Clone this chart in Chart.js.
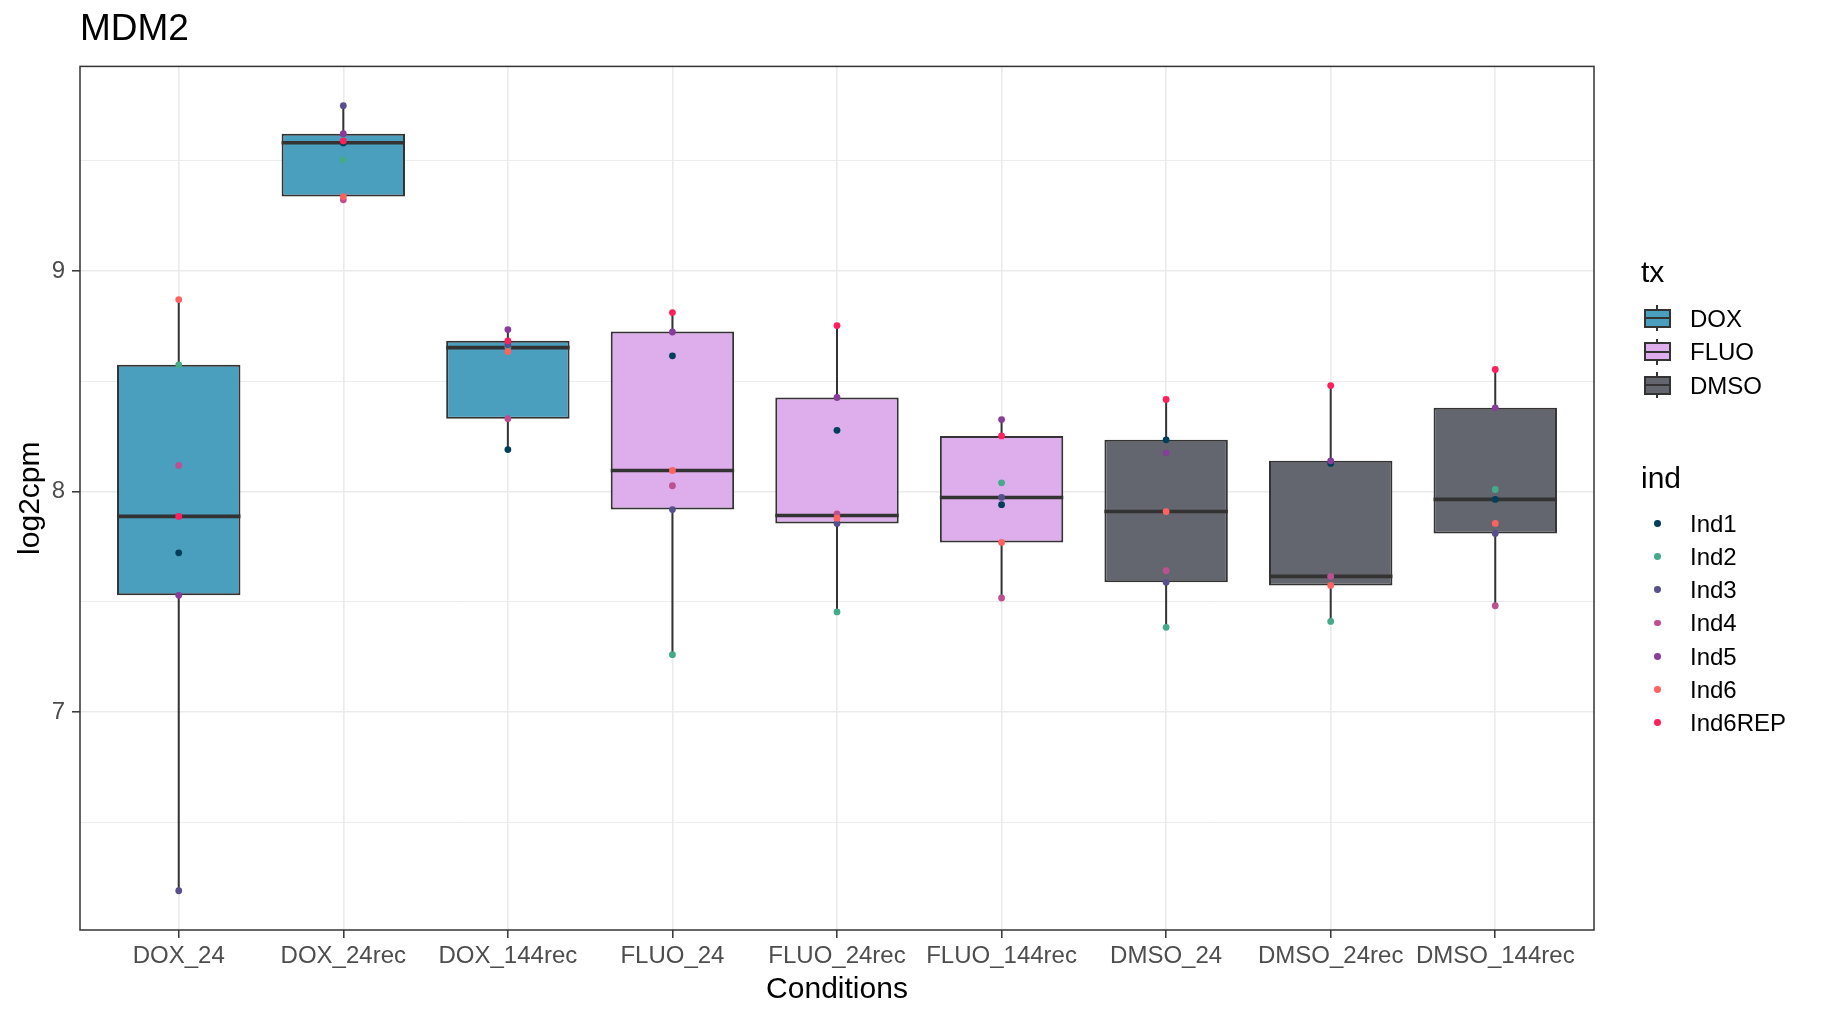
<!DOCTYPE html>
<html>
<head>
<meta charset="utf-8">
<title>MDM2</title>
<script src="https://cdn.jsdelivr.net/npm/chart.js@4.4.1/dist/chart.umd.min.js"></script>
<style>
  html, body { margin: 0; padding: 0; background: #ffffff; }
  #wrap {
    position: relative;
    width: 1821px;
    height: 1020px;
    font-family: "Liberation Sans", Arial, sans-serif;
  }
  #chart { position: absolute; left: 0; top: 0; }
  .lg-title { position: absolute; font-size: 30px; line-height: 36px; color: #000; white-space: nowrap; }
  .lg-text { position: absolute; font-size: 24px; line-height: 28px; color: #000; white-space: nowrap; }
  .lg-abs { position: absolute; box-sizing: border-box; }
</style>
</head>
<body>
<div id="wrap">
  <canvas id="chart" width="1821" height="1020"></canvas>
  <div id="legend"></div>
</div>
<script>
// Conditions on the x axis and the treatment group each one belongs to
const conditions = ["DOX_24", "DOX_24rec", "DOX_144rec", "FLUO_24", "FLUO_24rec",
  "FLUO_144rec", "DMSO_24", "DMSO_24rec", "DMSO_144rec"];
const conditionTx = ["DOX", "DOX", "DOX", "FLUO", "FLUO", "FLUO", "DMSO", "DMSO", "DMSO"];

// Treatment groups (box fill)
const txGroups = ["DOX", "FLUO", "DMSO"];
const txColors = ["#4A9EBE", "#DEADEB", "#63666E"];

// Box statistics (log2cpm)
const whiskerLow  = [6.19, 9.322, 8.19, 7.26, 7.454, 7.517, 7.384, 7.411, 7.482];
const boxQ1       = [7.529, 9.337, 8.33, 7.918, 7.855, 7.769, 7.588, 7.574, 7.81];
const boxMedian   = [7.887, 9.581, 8.652, 8.095, 7.891, 7.973, 7.909, 7.615, 7.964];
const boxQ3       = [8.574, 9.622, 8.683, 8.725, 8.426, 8.252, 8.234, 8.139, 8.379];
const whiskerHigh = [8.87, 9.749, 8.734, 8.811, 8.752, 8.326, 8.417, 8.48, 8.553];

// Individual points per condition
const individuals = ["Ind1", "Ind2", "Ind3", "Ind4", "Ind5", "Ind6", "Ind6REP"];
const indColors = ["#003F5C", "#45A98A", "#58508D", "#BC5090", "#883D9A", "#FF6361", "#FF1F5B"];
const ind1    = [7.722, 9.58, 8.19, 8.615, 8.277, 7.94, 8.234, 8.127, 7.964];
const ind2    = [8.574, 9.503, 8.655, 7.26, 7.454, 8.039, 7.384, 7.411, 8.009];
const ind3    = [6.19, 9.749, 8.665, 7.918, 7.855, 7.973, 7.588, 7.615, 7.81];
const ind4    = [8.118, 9.322, 8.33, 8.026, 7.898, 7.517, 7.641, 7.615, 7.482];
const ind5    = [7.529, 9.622, 8.734, 8.723, 8.426, 8.326, 8.175, 8.139, 8.379];
const ind6    = [8.87, 9.337, 8.634, 8.095, 7.879, 7.769, 7.909, 7.574, 7.855];
const ind6rep = [7.887, 9.589, 8.683, 8.811, 8.752, 8.252, 8.417, 8.48, 8.553];
const indValues = [ind1, ind2, ind3, ind4, ind5, ind6, ind6rep];

// Axis ticks
const yTickValues = [6.5, 7, 7.5, 8, 8.5, 9, 9.5];

// ggplot style 5% expansion of the data range on y, 0.6 units on x
const dataMin = Math.min(...whiskerLow);
const dataMax = Math.max(...whiskerHigh);
const yPad = (dataMax - dataMin) * 0.05;

const FONT = '"Liberation Sans", Arial, sans-serif';
Chart.defaults.font.family = FONT;

const boxColors = conditionTx.map((t) => txColors[txGroups.indexOf(t)]);

const datasets = [
  {
    type: "bar",
    label: "box",
    data: conditions.map((c, i) => ({ x: i, y: [boxQ1[i], boxQ3[i]] })),
    backgroundColor: boxColors,
    borderColor: "#333333",
    borderWidth: 2,
    borderSkipped: false,
    categoryPercentage: 1.0,
    barPercentage: 0.75,
    order: 10,
  },
];
individuals.forEach((name, k) => {
  datasets.push({
    type: "scatter",
    label: name,
    data: conditions.map((c, i) => ({ x: i, y: indValues[k][i] })),
    backgroundColor: indColors[k],
    borderWidth: 0,
    pointRadius: 3.4,
    pointHoverRadius: 3.4,
    order: individuals.length - k,
  });
});

// Whiskers, medians and the panel border
const boxLines = {
  id: "boxLines",
  beforeDatasetsDraw(chart) {
    const { ctx, scales } = chart;
    ctx.save();
    ctx.strokeStyle = "#333333";
    ctx.lineWidth = 2;
    conditions.forEach((c, i) => {
      const px = scales.x.getPixelForValue(i);
      ctx.beginPath();
      ctx.moveTo(px, scales.y.getPixelForValue(whiskerLow[i]));
      ctx.lineTo(px, scales.y.getPixelForValue(whiskerHigh[i]));
      ctx.stroke();
    });
    ctx.restore();
  },
  afterDatasetDraw(chart, args) {
    if (args.index !== 0) return;
    const { ctx, scales } = chart;
    ctx.save();
    ctx.strokeStyle = "#333333";
    ctx.lineWidth = 3.6;
    args.meta.data.forEach((bar, i) => {
      const half = bar.width / 2;
      const py = scales.y.getPixelForValue(boxMedian[i]);
      ctx.beginPath();
      ctx.moveTo(bar.x - half, py);
      ctx.lineTo(bar.x + half, py);
      ctx.stroke();
    });
    ctx.restore();
  },
  afterDraw(chart) {
    const { ctx, chartArea } = chart;
    ctx.save();
    ctx.strokeStyle = "#333333";
    ctx.lineWidth = 1.5;
    ctx.strokeRect(chartArea.left, chartArea.top,
      chartArea.right - chartArea.left, chartArea.bottom - chartArea.top);
    ctx.restore();
  },
};

new Chart(document.getElementById("chart"), {
  type: "bar",
  data: { datasets },
  plugins: [boxLines],
  options: {
    responsive: false,
    animation: false,
    events: [],
    layout: { padding: { left: 0, top: 0, right: 227, bottom: 0 } },
    plugins: {
      legend: { display: false },
      tooltip: { enabled: false },
      title: {
        display: true,
        text: "MDM2",
        align: "start",
        fullSize: false,
        color: "#000000",
        font: { size: 37, weight: "normal" },
        padding: { top: 8, bottom: 14 },
      },
    },
    scales: {
      x: {
        type: "linear",
        min: -0.6,
        max: conditions.length - 1 + 0.6,
        offset: false,
        afterBuildTicks: (s) => { s.ticks = conditions.map((c, i) => ({ value: i })); },
        afterFit: (s) => { s.height = 90; },
        ticks: {
          autoSkip: false,
          maxRotation: 0,
          minRotation: 0,
          padding: 4,
          color: "#4D4D4D",
          font: { size: 24 },
          callback: (v) => conditions[v],
        },
        grid: {
          offset: false,
          color: "#EBEBEB",
          lineWidth: 1.6,
          drawTicks: true,
          tickLength: 8,
          tickColor: "#333333",
          tickWidth: 1.5,
        },
        border: { display: false },
        title: {
          display: true,
          text: "Conditions",
          color: "#000000",
          font: { size: 30 },
          padding: { top: 0, bottom: 12 },
        },
      },
      y: {
        type: "linear",
        min: dataMin - yPad,
        max: dataMax + yPad,
        afterBuildTicks: (s) => { s.ticks = yTickValues.map((v) => ({ value: v })); },
        afterFit: (s) => { s.width = 80; },
        ticks: {
          padding: 7,
          color: "#4D4D4D",
          font: { size: 24 },
          callback: (v) => (Number.isInteger(v) ? String(v) : ""),
        },
        grid: {
          color: "#EBEBEB",
          lineWidth: (ctx) => (ctx.tick && Number.isInteger(ctx.tick.value) ? 1.6 : 0.9),
          drawTicks: true,
          tickLength: 8,
          tickColor: (ctx) => (ctx.tick && Number.isInteger(ctx.tick.value) ? "#333333" : "rgba(0,0,0,0)"),
          tickWidth: 1.5,
        },
        border: { display: false },
        title: {
          display: true,
          text: "log2cpm",
          color: "#000000",
          font: { size: 30 },
          padding: { top: 13, bottom: 0 },
        },
      },
    },
  },
});

// Legend (two ggplot-style guides) built from the group arrays
const legendEl = document.getElementById("legend");
function el(cls, css, text) {
  const d = document.createElement("div");
  d.className = cls;
  Object.assign(d.style, css);
  if (text !== undefined) d.textContent = text;
  legendEl.appendChild(d);
  return d;
}

el("lg-title", { left: "1641px", top: "254px" }, "tx");
txGroups.forEach((g, i) => {
  const cy = 318 + i * 33.5;
  el("lg-abs", { left: "1656px", top: (cy - 13) + "px", width: "2px", height: "26px", background: "#333333" });
  el("lg-abs", { left: "1644px", top: (cy - 9.5) + "px", width: "27px", height: "19px",
    background: txColors[i], border: "2px solid #333333" });
  el("lg-abs", { left: "1644px", top: (cy - 1) + "px", width: "27px", height: "2px", background: "#333333" });
  el("lg-text", { left: "1690px", top: (cy - 13.5) + "px" }, g);
});

el("lg-title", { left: "1641px", top: "460px" }, "ind");
individuals.forEach((name, k) => {
  const cy = 523.3 + k * 33.23;
  el("lg-abs", { left: "1654.3px", top: (cy - 3.4) + "px", width: "6.8px", height: "6.8px",
    borderRadius: "50%", background: indColors[k] });
  el("lg-text", { left: "1690px", top: (cy - 13.5) + "px" }, name);
});
</script>
</body>
</html>
